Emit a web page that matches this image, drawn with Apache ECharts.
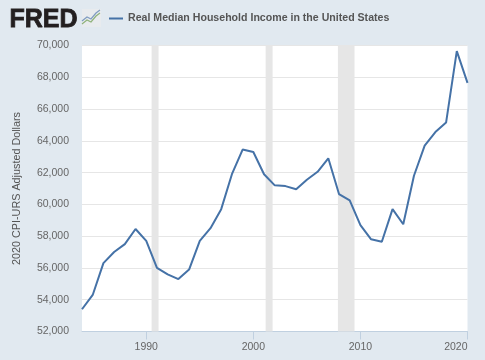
<!DOCTYPE html>
<html>
<head>
    <meta charset="utf-8">
    <style type="text/css" media="screen">
        html,body {
            margin: 0px; padding: 0px; height: 100%; background: #e1e9f0;
        }
    </style>
    <script src="https://cdn.jsdelivr.net/npm/echarts@6/dist/echarts.min.js"></script>
</head>
<body>
    <div id="canvas1" style="width: 485px; height: 360px; filter: blur(0.4px);"></div>

    <script type="text/javascript">
        var seriesName = 'Real Median Household Income in the United States';
        var yAxisName = '2020 CPI-URS Adjusted Dollars';

        var years = [1984,1985,1986,1987,1988,1989,1990,1991,1992,1993,1994,1995,1996,1997,1998,1999,2000,2001,2002,2003,2004,2005,2006,2007,2008,2009,2010,2011,2012,2013,2014,2015,2016,2017,2018,2019,2020];
        var income = [53400,54300,56300,57000,57500,58450,57700,56000,55600,55300,55900,57700,58500,59700,61900,63450,63300,61900,61200,61150,60950,61550,62050,62900,60650,60250,58700,57800,57650,59700,58750,61800,63700,64550,65150,69650,67650];

        // 衰退期阴影
        var recessionStart = [1990.5, 2001.15, 2007.9];
        var recessionEnd = [1991.15, 2001.8, 2009.45];

        var xTicks = [1990, 2000, 2010, 2020];

        var myChart1 = echarts.init(document.getElementById("canvas1"));

        var bands = [];
        for (var i = 0; i < recessionStart.length; i++) {
            bands.push([{xAxis: recessionStart[i]}, {xAxis: recessionEnd[i]}]);
        }

        var points = [];
        for (var j = 0; j < years.length; j++) {
            points.push([years[j], income[j]]);
        }

        var option1 = {
            backgroundColor: '#e1e9f0',
            textStyle: {fontFamily: '"Liberation Sans", Arial, sans-serif'},
            animation: false,
            grid: {left: 82, right: 17.5, top: 45.5, bottom: 28.5, show: true, backgroundColor: '#ffffff', borderWidth: 0},
            legend: {
                left: 104, top: 8, icon: 'rect', itemWidth: 14, itemHeight: 2, itemGap: 4,
                data: [seriesName],
                textStyle: {color: '#555555', fontSize: 10.6, fontWeight: 'bold', fontFamily: '"Liberation Sans", Arial, sans-serif'}
            },
            xAxis: {
                type: 'value', min: 1984, max: 2020,
                splitLine: {show: false},
                axisLine: {lineStyle: {color: '#c0d0e0', width: 1}},
                axisTick: {show: true, length: 8, customValues: xTicks, lineStyle: {color: '#c0d0e0'}},
                axisLabel: {
                    customValues: xTicks, alignMaxLabel: 'right', color: '#666666', fontSize: 10.5, margin: 10,
                    formatter: function (v) { return String(v); }
                }
            },
            yAxis: {
                type: 'value', min: 52000, max: 70000, interval: 2000,
                name: yAxisName, nameLocation: 'middle', nameGap: 59,
                nameTextStyle: {color: '#555555', fontSize: 10.8},
                axisLine: {show: false},
                axisTick: {show: false},
                splitLine: {lineStyle: {color: '#e6e6e6', width: 1}},
                axisLabel: {
                    color: '#666666', fontSize: 10.5, margin: 13, padding: [2, 0, 0, 0],
                    formatter: function (v) { return v.toLocaleString('en-US'); }
                }
            },
            series: [{
                name: seriesName,
                type: 'line',
                data: points,
                showSymbol: false,
                itemStyle: {color: '#4572a7'},
                lineStyle: {color: '#4572a7', width: 2},
                markArea: {silent: true, itemStyle: {color: '#e6e6e6'}, data: bands}
            }],
            graphic: [
                // FRED 标志
                {type: 'text', left: 9, top: 7, style: {text: 'FRED', fill: '#231f20', stroke: '#231f20', lineWidth: 0.8, font: 'bold 25px "Liberation Sans", Arial, sans-serif'}},
                {type: 'rect', shape: {x: 82, y: 9, width: 19, height: 18}, style: {fill: '#e8ebee'}},
                {type: 'polyline', shape: {points: [[82,24],[87,20],[91,22],[96,16],[100,13]]}, style: {fill: 'none', stroke: '#8fb27a', lineWidth: 1.2}},
                {type: 'polyline', shape: {points: [[82,21],[87,17],[91,19],[96,13],[100,10]]}, style: {fill: 'none', stroke: '#7f9cc0', lineWidth: 1.2}}
            ]
        };

        myChart1.setOption(option1);
    </script>
</body>
</html>
